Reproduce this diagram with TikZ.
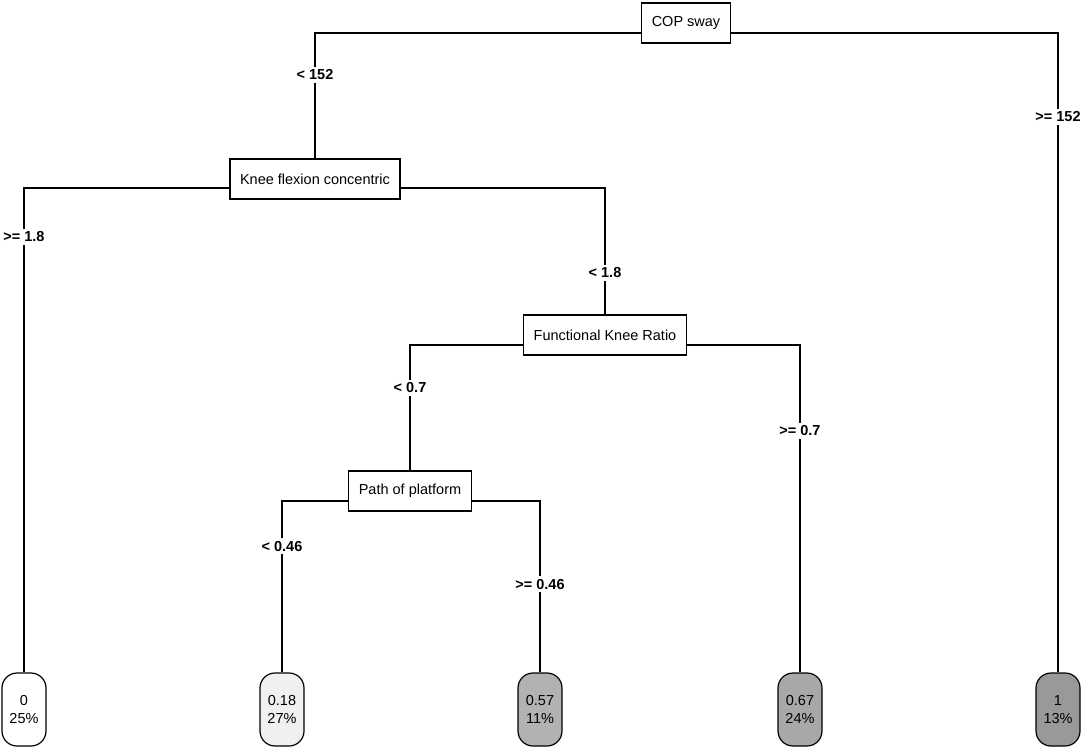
\documentclass[tikz,border=0pt]{standalone}
\usepackage{fontspec}
\setmainfont{Liberation Sans}
\usetikzlibrary{backgrounds}

\begin{document}
\begin{tikzpicture}[
  x=1pt, y=-1pt,
  font=\fontsize{14.5}{18}\selectfont,
  split/.style = {draw,fill=white,line width=1.2pt,minimum height=40pt,inner xsep=10pt},
  leaf/.style = {draw,fill=#1,line width=1.2pt,rounded corners=15pt,
    minimum width=44pt,minimum height=73pt,inner sep=1pt,align=center},
  branch/.style = {fill=white,font=\fontsize{14.5}{16}\selectfont\bfseries,inner sep=3pt},
  edge/.style = {line width=1.1pt}
  ]
  \useasboundingbox (0,0) rectangle (1084,753);
  % leaves
  \node[leaf=white]   (L1) at (24,709.5)   {0\\25\%};
  \node[leaf=gray!12] (L2) at (282,709.5)  {0.18\\27\%};
  \node[leaf=gray!60] (L3) at (540,709.5)  {0.57\\11\%};
  \node[leaf=gray!68] (L4) at (800,709.5)  {0.67\\24\%};
  \node[leaf=gray!80] (L5) at (1058,709.5) {1\\13\%};
  % splits
  \node[split] (S1) at (686,23)  {COP sway};
  \node[split] (S2) at (315,179) {Knee flexion concentric};
  \node[split] (S3) at (605,335) {Functional Knee Ratio};
  \node[split] (S4) at (410,491) {Path of platform};
  % branch labels
  \node[branch] (b1) at (315,75)   {< 152};
  \node[branch] (b2) at (1058,117) {>= 152};
  \node[branch] (b3) at (24,237)   {>= 1.8};
  \node[branch] (b4) at (605,273)  {< 1.8};
  \node[branch] (b5) at (410,388)  {< 0.7};
  \node[branch] (b6) at (800,431)  {>= 0.7};
  \node[branch] (b7) at (282,546)  {< 0.46};
  \node[branch] (b8) at (540,584)  {>= 0.46};
  \begin{scope}[on background layer]
    \draw[edge] (S2.north) |- ([yshift=-10pt]S1.center) -| (L5.north);
    \draw[edge] (L1.north) |- ([yshift=-9pt]S2.center) -| (S3.north);
    \draw[edge] (S4.north) |- ([yshift=-10pt]S3.center) -| (L4.north);
    \draw[edge] (L2.north) |- ([yshift=-10pt]S4.center) -| (L3.north);
  \end{scope}
\end{tikzpicture}
\end{document}
